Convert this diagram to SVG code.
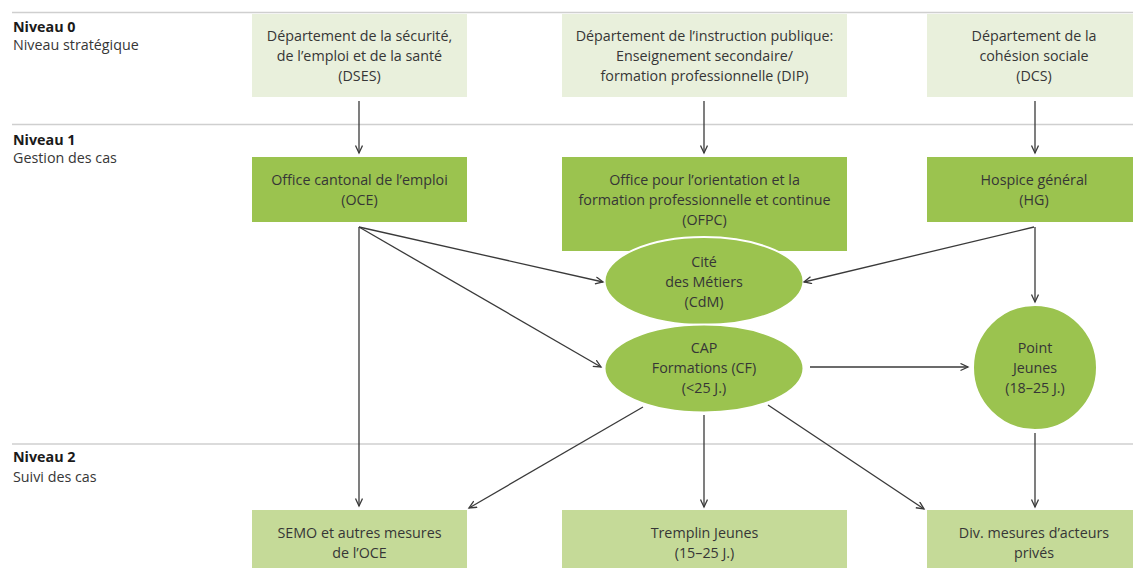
<svg xmlns="http://www.w3.org/2000/svg" width="1133" height="568" viewBox="0 0 1133 568">
<defs>
<marker id="arr" markerUnits="userSpaceOnUse" markerWidth="12" markerHeight="12" refX="8" refY="4" orient="auto">
<path d="M0.5,0.5 L8,4 L0.5,7.5" fill="none" stroke="#3a3a3a" stroke-width="1.3"/>
</marker>
</defs>
<style>
text{font-family:"Open Sans","Noto Sans","Liberation Sans",sans-serif;font-size:14.3px;fill:#363636;text-anchor:middle}
.lbl{text-anchor:start}
.b{font-weight:bold;fill:#1a1a1a}
.sep{stroke:#cfcfcf;stroke-width:1.5}
.l0{fill:#e9f0dc}
.l1{fill:#9bc34f}
.l2{fill:#c5da98}
.ell{fill:#9bc34f;stroke:#ffffff;stroke-width:2}
.c line,.c path{stroke:#3a3a3a;stroke-width:1.3;fill:none;marker-end:url(#arr)}
</style>
<rect width="1133" height="568" fill="#ffffff"/>
<g id="separators">
<line class="sep" x1="12" y1="12.5" x2="1133" y2="12.5"/>
<line class="sep" x1="12" y1="124.5" x2="1133" y2="124.5"/>
<line class="sep" x1="12" y1="444" x2="1133" y2="444"/>
</g>
<g id="levels">
<text class="lbl b" x="13" y="32">Niveau 0</text>
<text class="lbl" x="13" y="50">Niveau stratégique</text>
<text class="lbl b" x="13" y="145">Niveau 1</text>
<text class="lbl" x="13" y="163">Gestion des cas</text>
<text class="lbl b" x="13" y="462">Niveau 2</text>
<text class="lbl" x="13" y="482">Suivi des cas</text>
</g>
<g id="dses">
<rect class="l0" x="252" y="14" width="215" height="83"/>
<text x="359.5" y="41">Département de la sécurité,</text>
<text x="359.5" y="61">de l’emploi et de la santé</text>
<text x="359.5" y="81">(DSES)</text>
</g>
<g id="dip">
<rect class="l0" x="562" y="14" width="285" height="83"/>
<text x="704.5" y="41">Département de l’instruction publique:</text>
<text x="704.5" y="61">Enseignement secondaire/</text>
<text x="704.5" y="81">formation professionnelle (DIP)</text>
</g>
<g id="dcs">
<rect class="l0" x="927" y="14" width="206" height="83"/>
<text x="1034" y="41">Département de la</text>
<text x="1034" y="61">cohésion sociale</text>
<text x="1034" y="81">(DCS)</text>
</g>
<g id="oce">
<rect class="l1" x="252" y="157" width="215" height="65"/>
<text x="359.5" y="185">Office cantonal de l’emploi</text>
<text x="359.5" y="205">(OCE)</text>
</g>
<g id="ofpc">
<rect class="l1" x="562" y="157" width="285" height="94"/>
<text x="704.5" y="185">Office pour l’orientation et la</text>
<text x="704.5" y="205">formation professionnelle et continue</text>
<text x="704.5" y="225">(OFPC)</text>
</g>
<g id="hg">
<rect class="l1" x="927" y="157" width="206" height="65"/>
<text x="1034" y="185">Hospice général</text>
<text x="1034" y="205">(HG)</text>
</g>
<g id="cdm">
<ellipse class="ell" cx="704" cy="281" rx="99.5" ry="44"/>
<text x="704" y="267">Cité</text>
<text x="704" y="287">des Métiers</text>
<text x="704" y="307">(CdM)</text>
</g>
<g id="cap">
<ellipse class="ell" cx="704" cy="368.5" rx="99.5" ry="44"/>
<text x="704" y="353">CAP</text>
<text x="704" y="373">Formations (CF)</text>
<text x="704" y="393">(&lt;25 J.)</text>
</g>
<g id="pointjeunes">
<ellipse class="ell" cx="1035" cy="367.5" rx="62" ry="62.5"/>
<text x="1035" y="353">Point</text>
<text x="1035" y="373">Jeunes</text>
<text x="1035" y="393">(18–25 J.)</text>
</g>
<g id="semo">
<rect class="l2" x="252" y="510" width="215" height="58"/>
<text x="359.5" y="538">SEMO et autres mesures</text>
<text x="359.5" y="558">de l’OCE</text>
</g>
<g id="tremplin">
<rect class="l2" x="562" y="510" width="285" height="58"/>
<text x="704.5" y="538">Tremplin Jeunes</text>
<text x="704.5" y="558">(15–25 J.)</text>
</g>
<g id="div">
<rect class="l2" x="927" y="510" width="206" height="58"/>
<text x="1034" y="538">Div. mesures d’acteurs</text>
<text x="1034" y="558">privés</text>
</g>
<g id="connectors" class="c">
<line x1="359" y1="101" x2="359" y2="153"/>
<line x1="704" y1="101" x2="704" y2="153"/>
<line x1="1035" y1="101" x2="1035" y2="153"/>
<line x1="359" y1="227" x2="359" y2="506"/>
<line x1="359" y1="227" x2="603" y2="282"/>
<line x1="359" y1="227" x2="601" y2="367"/>
<line x1="1034" y1="227" x2="804" y2="282"/>
<line x1="1035" y1="227" x2="1035" y2="302"/>
<line x1="810" y1="367" x2="968" y2="367"/>
<line x1="643" y1="407" x2="469" y2="508"/>
<line x1="704" y1="415" x2="704" y2="507"/>
<line x1="768" y1="405" x2="924" y2="509"/>
<line x1="1035" y1="433" x2="1035" y2="507"/>
</g>
</svg>
